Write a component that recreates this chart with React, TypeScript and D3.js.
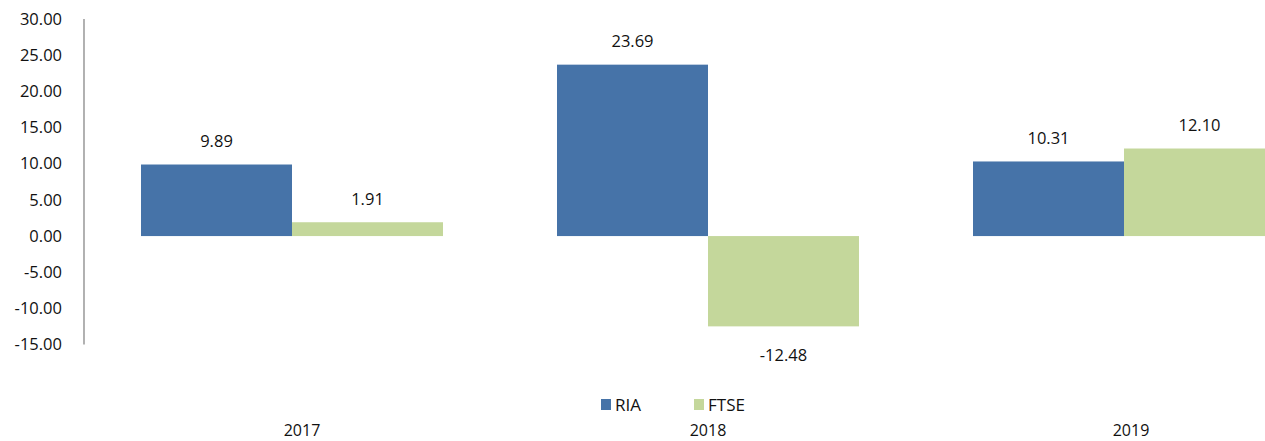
import React from "react";
import * as d3 from "d3";

const categories = ["2017", "2018", "2019"];
const seriesNames = ["RIA", "FTSE"];
const riaValues = [9.89, 23.69, 10.31];
const ftseValues = [1.91, -12.48, 12.1];
const yTicks = [30, 25, 20, 15, 10, 5, 0, -5, -10, -15];
const colors = ["#4673A8", "#C4D79B"];

const W = 1265;
const H = 441;
const FONT = "'Open Sans', sans-serif";

export default function App() {
  const axisX = 84;
  const x = d3.scaleBand<string>().domain(categories).range([axisX, axisX + 416 * 3]).paddingInner(0).paddingOuter(0);
  const groupPad = (416 - 302) / 2;
  const xs = d3.scaleBand<string>().domain(seriesNames).range([0, 302]);
  const y = d3.scaleLinear().domain([-15, 30]).range([344.6, 19]);
  const series = [riaValues, ftseValues];

  return (
    <svg width={W} height={H} style={{ position: "absolute", left: 0, top: 0, fontFamily: FONT }}>
      <line x1={axisX} x2={axisX} y1={y(30)} y2={y(-15)} stroke="#888" strokeWidth={1.3} />
      {yTicks.map((t) => (
        <text key={t} x={62} y={y(t)} dy="0.35em" textAnchor="end" fontSize={16.5} fill="#111">
          {t.toFixed(2)}
        </text>
      ))}
      {categories.map((c, i) => (
        <g key={c}>
          {series.map((vals, s) => {
            const v = vals[i];
            const bx = (x(c) as number) + groupPad + (xs(seriesNames[s]) as number);
            const top = Math.min(y(v), y(0));
            const h = Math.abs(y(v) - y(0));
            const lx = bx + xs.bandwidth() / 2;
            const ly = v >= 0 ? y(v) - 23 : y(v) + 29;
            return (
              <g key={s}>
                <rect x={bx} y={top} width={xs.bandwidth()} height={h} fill={colors[s]} />
                <text x={lx} y={ly} dy="0.35em" textAnchor="middle" fontSize={16.5} fill="#111">
                  {v.toFixed(2)}
                </text>
              </g>
            );
          })}
          <text x={(x(c) as number) + x.bandwidth() / 2 + [10, 0, 7][i]} y={430} dy="0.35em" textAnchor="middle" fontSize={16} fill="#111">
            {c}
          </text>
        </g>
      ))}
      {seriesNames.map((n, s) => {
        const lx = [601, 694][s];
        return (
          <g key={n}>
            <rect x={lx} y={399} width={10} height={11} fill={colors[s]} />
            <text x={lx + 14} y={405} dy="0.35em" fontSize={17} fill="#111">
              {n}
            </text>
          </g>
        );
      })}
    </svg>
  );
}
